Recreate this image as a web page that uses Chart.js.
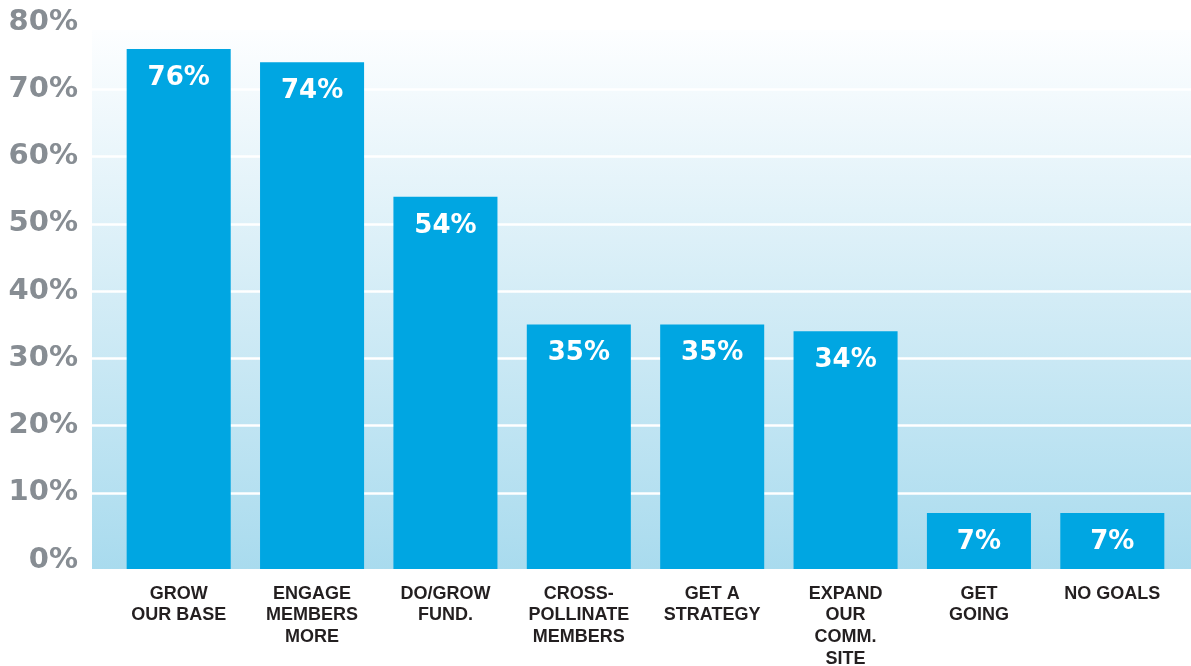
<!DOCTYPE html>
<html>
<head>
<meta charset="utf-8">
<script src="https://cdn.jsdelivr.net/npm/chart.js@4.4.1/dist/chart.umd.min.js"></script>
<style>
  html, body { margin: 0; padding: 0; background: #fff; }
  #wrap { width: 1191px; height: 666px; position: relative; }
</style>
</head>
<body>
<div id="wrap"><canvas id="goalsChart"></canvas></div>
<script>
const categories = [
    ["GROW", "OUR BASE"],
    ["ENGAGE", "MEMBERS", "MORE"],
    ["DO/GROW", "FUND."],
    ["CROSS-", "POLLINATE", "MEMBERS"],
    ["GET A", "STRATEGY"],
    ["EXPAND", "OUR", "COMM.", "SITE"],
    ["GET", "GOING"],
    ["NO GOALS"]
];
const shares = [76, 74, 54, 35, 35, 34, 7, 7];
const yTicks = [0, 10, 20, 30, 40, 50, 60, 70, 80];

const barBlue = "#00a6e2";
const axisGray = "#878d93";

// gradient panel + white gridlines, a bit wider than the bar area
const panelPlugin = {
    id: "panel",
    beforeDatasetsDraw(chart) {
        const { ctx, chartArea } = chart;
        const yScale = chart.scales.y;
        const left = chartArea.left - 20;
        const right = chart.width;
        const top = chartArea.top + 8;
        const bottom = chartArea.bottom;

        ctx.save();
        const g = ctx.createLinearGradient(0, top, 0, bottom);
        g.addColorStop(0, "#fdfeff");
        g.addColorStop(0.5, "#d3ecf6");
        g.addColorStop(1, "#a9dbee");
        ctx.fillStyle = g;
        ctx.fillRect(left, top, right - left, bottom - top);

        ctx.strokeStyle = "#ffffff";
        ctx.lineWidth = 2.5;
        yTicks.forEach(v => {
            if (v === 0 || v === 80) return;
            const y = Math.round(yScale.getPixelForValue(v)) + 0.5;
            ctx.beginPath();
            ctx.moveTo(left, y);
            ctx.lineTo(right, y);
            ctx.stroke();
        });
        ctx.restore();
    },
    afterDatasetsDraw(chart) {
        const { ctx } = chart;
        const meta = chart.getDatasetMeta(0);
        ctx.save();
        ctx.fillStyle = "#ffffff";
        ctx.font = "bold 26px 'DejaVu Sans'";
        ctx.textAlign = "center";
        ctx.textBaseline = "middle";
        meta.data.forEach((bar, i) => {
            ctx.fillText(shares[i] + "%", bar.x, bar.y + 29);
        });
        ctx.restore();
    }
};

new Chart(document.getElementById("goalsChart"), {
    type: "bar",
    data: {
        labels: categories,
        datasets: [{
            data: shares,
            backgroundColor: barBlue,
            borderWidth: 0,
            barPercentage: 0.78,
            categoryPercentage: 1.0,
            base: -1.34
        }]
    },
    options: {
        responsive: true,
        maintainAspectRatio: false,
        animation: false,
        layout: { padding: { top: 0, right: 12, left: 0, bottom: 0 } },
        plugins: {
            legend: { display: false },
            tooltip: { enabled: false }
        },
        scales: {
            x: {
                grid: { display: false, drawTicks: false },
                border: { display: false },
                afterFit(scale) {
                    scale.height = 97;
                },
                ticks: {
                    color: "#231f20",
                    font: { family: "'Liberation Sans'", weight: "bold", size: 18, lineHeight: 1.2 },
                    padding: 14,
                    maxRotation: 0,
                    autoSkip: false
                }
            },
            y: {
                min: -1.34,
                max: 80,
                grid: { display: false, drawTicks: false },
                border: { display: false },
                afterBuildTicks(scale) {
                    scale.ticks = yTicks.map(v => ({ value: v }));
                },
                afterFit(scale) {
                    // keep the big tick padding from pushing the plot down
                    scale.width = 112;
                    scale.paddingTop = 22;
                    scale.paddingBottom = 0;
                },
                ticks: {
                    color: axisGray,
                    font: { family: "'DejaVu Sans'", weight: "bold", size: 29 },
                    padding: 34,
                    callback: v => v + "%"
                }
            }
        }
    },
    plugins: [panelPlugin]
});
</script>
</body>
</html>
